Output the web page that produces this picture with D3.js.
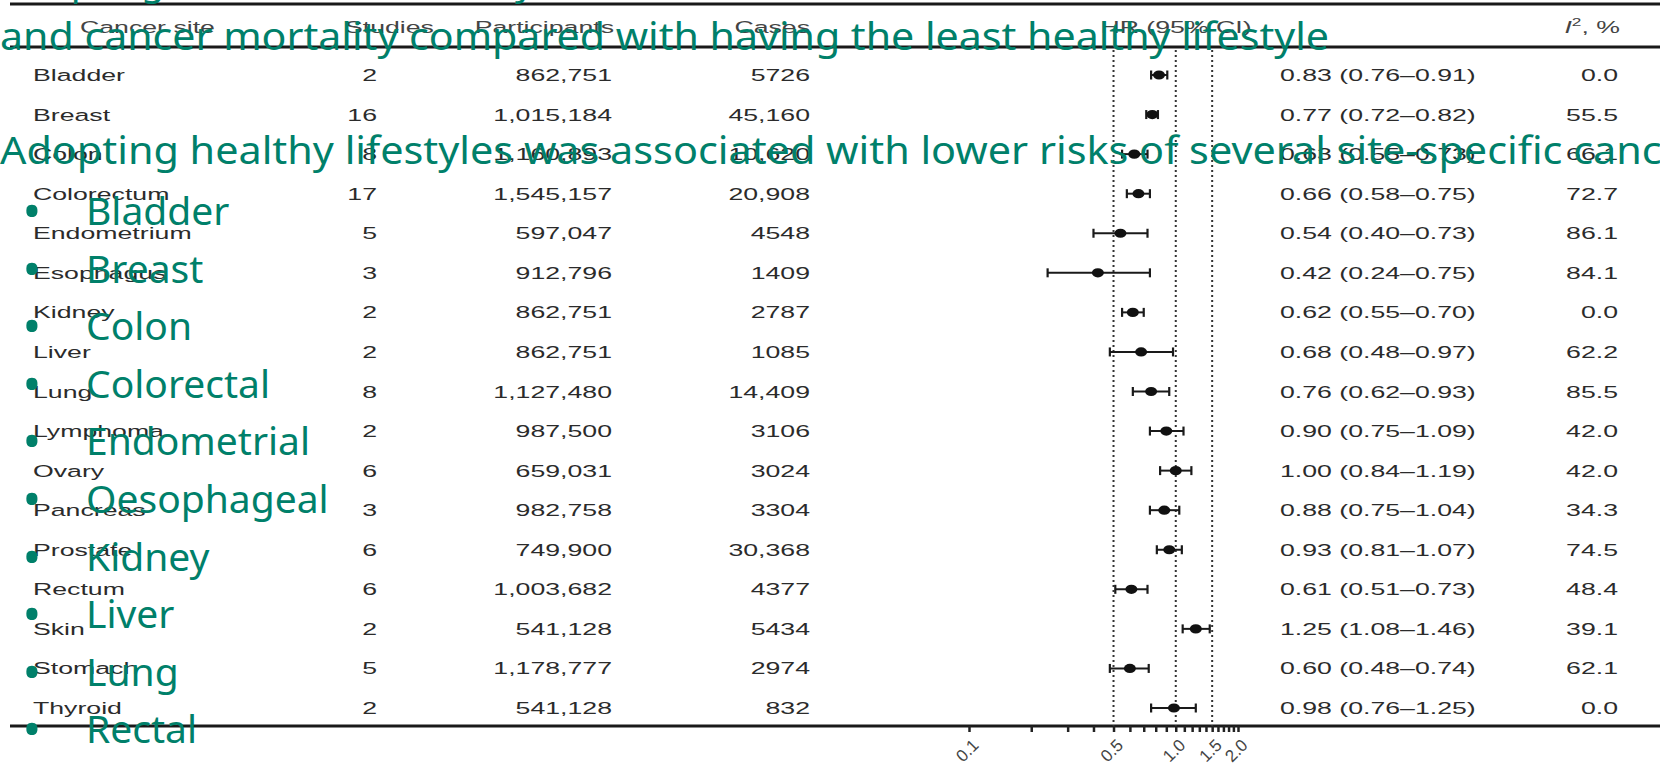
<!DOCTYPE html>
<html>
<head>
<meta charset="utf-8">
<script src="https://cdn.jsdelivr.net/npm/d3@7"></script>
<style>
body{margin:0;background:#fff;}
svg{display:block;}
</style>
</head>
<body>
<div id="chart"></div>
<script>
// table data
var sites = ["Bladder","Breast","Colon","Colorectum","Endometrium","Esophagus","Kidney","Liver","Lung","Lymphoma","Ovary","Pancreas","Prostate","Rectum","Skin","Stomach","Thyroid"];
var studies = [2,16,8,17,5,3,2,2,8,2,6,3,6,6,2,5,2];
var participants = ["862,751","1,015,184","1,160,893","1,545,157","597,047","912,796","862,751","862,751","1,127,480","987,500","659,031","982,758","749,900","1,003,682","541,128","1,178,777","541,128"];
var cases = ["5726","45,160","10,620","20,908","4548","1409","2787","1085","14,409","3106","3024","3304","30,368","4377","5434","2974","832"];
var hr = [0.83,0.77,0.63,0.66,0.54,0.42,0.62,0.68,0.76,0.90,1.00,0.88,0.93,0.61,1.25,0.60,0.98];
var lo = [0.76,0.72,0.55,0.58,0.40,0.24,0.55,0.48,0.62,0.75,0.84,0.75,0.81,0.51,1.08,0.48,0.76];
var hi = [0.91,0.82,0.73,0.75,0.73,0.75,0.70,0.97,0.93,1.09,1.19,1.04,1.07,0.73,1.46,0.74,1.25];
var i2 = [0.0,55.5,66.1,72.7,86.1,84.1,0.0,62.2,85.5,42.0,42.0,34.3,74.5,48.4,39.1,62.1,0.0];
var axisTicks = [0.1,0.2,0.3,0.4,0.5,0.6,0.7,0.8,0.9,1.0,1.1,1.2,1.3,1.4,1.5,1.6,1.7,1.8,1.9,2.0];
var tickLabels = [0.1,0.5,1.0,1.5,2.0];
var refLines = [0.5,1.0,1.5];
// slide text laid over the figure
var slideLine1 = "Adopting the healthiest lifestyle was associated with lower risks of overall cancer incidence";
var slideLine2 = "and cancer mortality compared with having the least healthy lifestyle";
var slideLine3 = "Adopting healthy lifestyles was associated with lower risks of several site-specific cancers";
var slideBullets = ["Bladder","Breast","Colon","Colorectal","Endometrial","Oesophageal","Kidney","Liver","Lung","Rectal"];

var svgWidth = 1660, svgHeight = 765;
var svg = d3.select("#chart").append("svg")
    .attr("width", svgWidth)
    .attr("height", svgHeight);
svg.append("rect").attr("width", svgWidth).attr("height", svgHeight).attr("fill", "#fff");

var axisY = 726;
var xScale = d3.scaleLog().domain([0.1, 2]).range([969, 1238]);
var yScale = d3.scalePoint().domain(sites).range([75, 708]);
var stretch = 1.57;
var tfont = "'Liberation Sans', Arial, sans-serif";

// table text is squeezed wide in the picture, so scale it on x
function addText(g, x, y, str, anchor, fill) {
    return g.append("text")
        .attr("transform", `translate(${x},${y}) scale(${stretch},1)`)
        .attr("text-anchor", anchor)
        .attr("font-family", tfont)
        .attr("font-size", 17)
        .attr("fill", fill || "#2b2b2b")
        .text(str);
}

// rules
[4, 47, axisY].forEach(function(y) {
    svg.append("line").attr("x1", 10).attr("x2", svgWidth).attr("y1", y).attr("y2", y)
        .attr("stroke", "#1a1a1a").attr("stroke-width", 3);
});

// header
var head = svg.append("g");
addText(head, 80, 33, "Cancer site", "start", "#444");
addText(head, 345, 33, "Studies", "start", "#444");
addText(head, 614, 33, "Participants", "end", "#444");
addText(head, 810, 33, "Cases", "end", "#444");
addText(head, 1176, 33, "HR (95% CI)", "middle", "#444");
var i2h = addText(head, 1620, 33, "", "end", "#444");
i2h.append("tspan").attr("font-style", "italic").text("I");
i2h.append("tspan").attr("font-size", 11).attr("dy", -7).text("2");
i2h.append("tspan").attr("dy", 7).text(", %");

// reference lines
svg.selectAll(".ref").data(refLines).enter().append("line")
    .attr("x1", d => xScale(d)).attr("x2", d => xScale(d))
    .attr("y1", 50).attr("y2", axisY)
    .attr("stroke", "#333").attr("stroke-width", 2).attr("stroke-dasharray", "2,3");

// rows
var fmt = d3.format(".2f");
var rows = svg.append("g");
sites.forEach(function(s, i) {
    var y = yScale(s);
    var ty = y + 6;
    addText(rows, 33, ty, s, "start");
    addText(rows, 377, ty, studies[i], "end");
    addText(rows, 612, ty, participants[i], "end");
    addText(rows, 810, ty, cases[i], "end");
    addText(rows, 1280, ty, fmt(hr[i]) + " (" + fmt(lo[i]) + "\u2013" + fmt(hi[i]) + ")", "start");
    addText(rows, 1618, ty, d3.format(".1f")(i2[i]), "end");
    var m = rows.append("g");
    m.append("line").attr("x1", xScale(lo[i])).attr("x2", xScale(hi[i])).attr("y1", y).attr("y2", y)
        .attr("stroke", "#1a1a1a").attr("stroke-width", 2);
    [lo[i], hi[i]].forEach(function(v) {
        m.append("line").attr("x1", xScale(v)).attr("x2", xScale(v)).attr("y1", y - 4.5).attr("y2", y + 4.5)
            .attr("stroke", "#1a1a1a").attr("stroke-width", 2.2);
    });
    m.append("ellipse").attr("cx", xScale(hr[i])).attr("cy", y).attr("rx", 6).attr("ry", 4.6).attr("fill", "#111");
});

// x axis
var xAxis = d3.axisBottom(xScale)
    .tickValues(axisTicks)
    .tickSize(6)
    .tickFormat(d => tickLabels.some(t => Math.abs(t - d) < 1e-9) ? d3.format(".1f")(d) : "");
var axisG = svg.append("g").attr("transform", `translate(0,${axisY})`).call(xAxis);
axisG.select(".domain").remove();
axisG.selectAll(".tick line").attr("stroke", "#222").attr("stroke-width", 2.5);
axisG.selectAll(".tick text")
    .attr("x", 0).attr("y", 0).attr("dy", "0.35em")
    .attr("text-anchor", "end")
    .attr("transform", "translate(6,16) rotate(-45)")
    .attr("font-family", tfont).attr("font-size", 17).attr("fill", "#444");

// green slide text on top
var green = "#00806a";
var slide = svg.append("g").attr("fill", green).attr("font-family", "'Noto Sans', sans-serif").attr("font-size", 38);
slide.append("text").attr("x", 0).attr("y", -5).text(slideLine1);
slide.append("text").attr("x", 0).attr("y", 50)
    .attr("textLength", 1329).attr("lengthAdjust", "spacingAndGlyphs").text(slideLine2);
// last line runs off the right edge at "canc"
var probe = slide.append("text").attr("x", 0).attr("y", 164).text(slideLine3.slice(0, slideLine3.length - 3));
var w = probe.node().getComputedTextLength();
probe.remove();
slide.append("text").attr("transform", `translate(0,164) scale(${1662 / w},1)`).text(slideLine3);

slideBullets.forEach(function(b, i) {
    var y = 225 + i * 57.6;
    slide.append("text").attr("x", 32).attr("y", y + 4).attr("text-anchor", "middle").attr("font-size", 50).text("\u2022");
    slide.append("text").attr("x", 86).attr("y", y).attr("font-size", 39).text(b);
});
</script>
</body>
</html>
